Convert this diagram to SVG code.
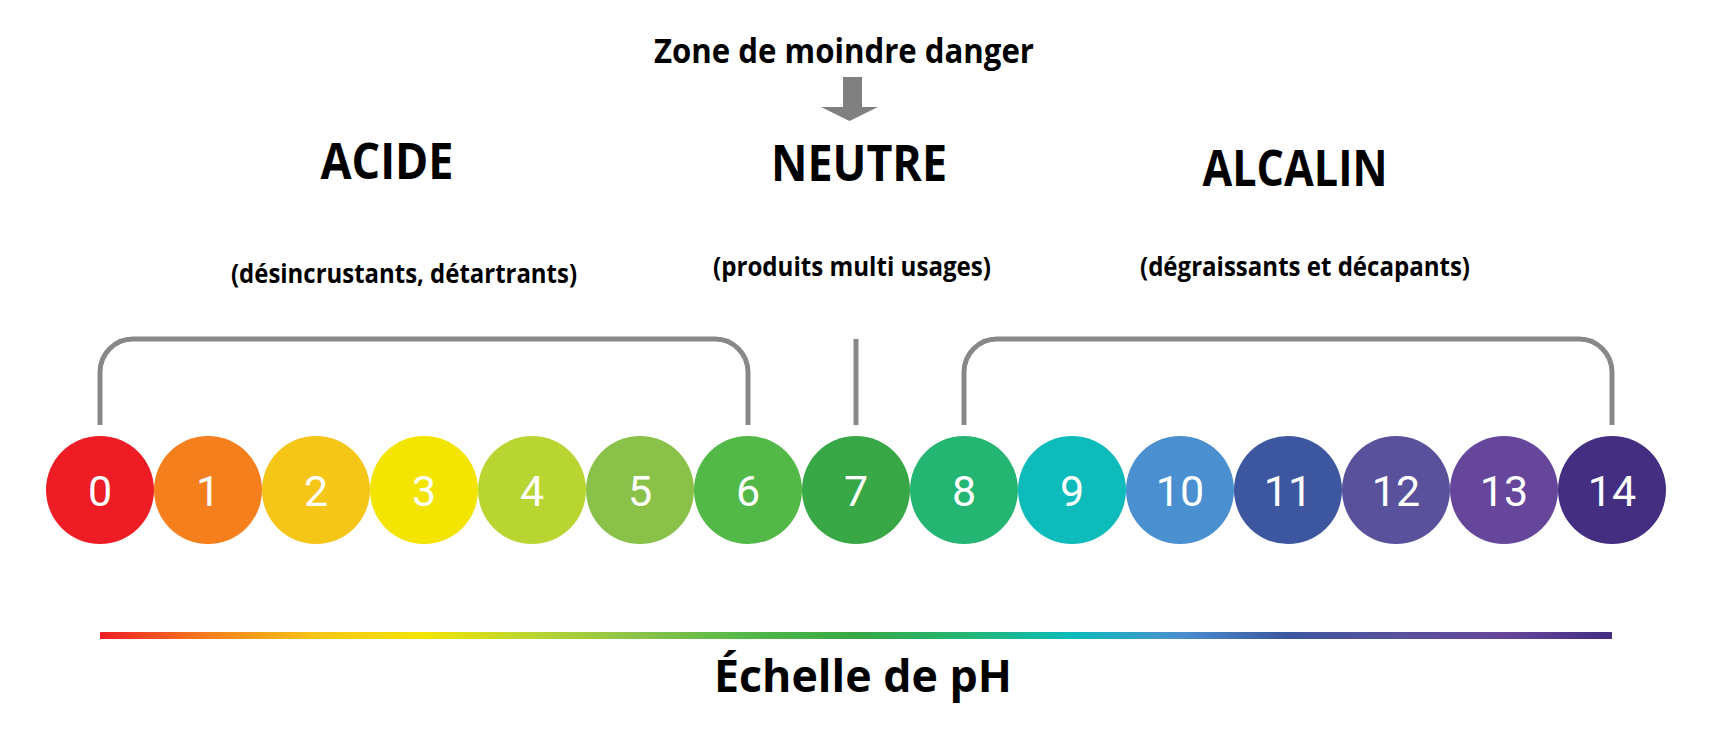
<svg xmlns="http://www.w3.org/2000/svg" width="1717" height="729" viewBox="0 0 1717 729">
<style>
.t{font-family:"Open Sans","Liberation Sans",sans-serif;font-weight:700;fill:#000;text-anchor:middle}
.d{font-family:Roboto,"Liberation Sans",sans-serif;font-weight:400;font-size:43px;fill:#fff;text-anchor:middle}
.br{fill:none;stroke:#888;stroke-width:5}
</style>
<defs>
<linearGradient id="g" x1="100" y1="0" x2="1612" y2="0" gradientUnits="userSpaceOnUse">
<stop offset="0" stop-color="#EE1D25"/>
<stop offset="0.0714" stop-color="#F57E1D"/>
<stop offset="0.1429" stop-color="#F5C518"/>
<stop offset="0.2143" stop-color="#F3E500"/>
<stop offset="0.2857" stop-color="#B9D532"/>
<stop offset="0.3571" stop-color="#8AC249"/>
<stop offset="0.4286" stop-color="#52B848"/>
<stop offset="0.5" stop-color="#37A845"/>
<stop offset="0.5714" stop-color="#24B573"/>
<stop offset="0.6429" stop-color="#0CBBBA"/>
<stop offset="0.7143" stop-color="#4A8FCF"/>
<stop offset="0.7857" stop-color="#3C56A0"/>
<stop offset="0.8571" stop-color="#59519C"/>
<stop offset="0.9286" stop-color="#65469B"/>
<stop offset="1" stop-color="#432E82"/>
</linearGradient>
</defs>
<rect width="1717" height="729" fill="#fff"/>
<g id="title">
<text class="t" x="844" y="63" font-size="34" textLength="380" lengthAdjust="spacingAndGlyphs">Zone de moindre danger</text>
<path d="M843 77 H862 V107 H878 L849.5 121 L821 107 H843 Z" fill="#808080"/>
</g>
<g id="labels">
<text class="t" x="387" y="179" font-size="50" textLength="133" lengthAdjust="spacingAndGlyphs">ACIDE</text>
<text class="t" x="859" y="181" font-size="50" textLength="176" lengthAdjust="spacingAndGlyphs">NEUTRE</text>
<text class="t" x="1295" y="186" font-size="50" textLength="185" lengthAdjust="spacingAndGlyphs">ALCALIN</text>
<text class="t" x="404" y="283" font-size="27" textLength="346" lengthAdjust="spacingAndGlyphs">(désincrustants, détartrants)</text>
<text class="t" x="852" y="276" font-size="27" textLength="278" lengthAdjust="spacingAndGlyphs">(produits multi usages)</text>
<text class="t" x="1305" y="276" font-size="27" textLength="330" lengthAdjust="spacingAndGlyphs">(dégraissants et décapants)</text>
</g>
<g id="connectors">
<path class="br" d="M100 425 V372 A33 33 0 0 1 133 339 H715 A33 33 0 0 1 748 372 V425"/>
<path class="br" d="M856 339 V425"/>
<path class="br" d="M964 425 V372 A33 33 0 0 1 997 339 H1579 A33 33 0 0 1 1612 372 V425"/>
</g>
<g id="ph0"><circle cx="100" cy="490" r="54" fill="#EE1D25"/><text class="d" x="100" y="506">0</text></g>
<g id="ph1"><circle cx="208" cy="490" r="54" fill="#F57E1D"/><text class="d" x="208" y="506">1</text></g>
<g id="ph2"><circle cx="316" cy="490" r="54" fill="#F5C518"/><text class="d" x="316" y="506">2</text></g>
<g id="ph3"><circle cx="424" cy="490" r="54" fill="#F3E500"/><text class="d" x="424" y="506">3</text></g>
<g id="ph4"><circle cx="532" cy="490" r="54" fill="#B9D532"/><text class="d" x="532" y="506">4</text></g>
<g id="ph5"><circle cx="640" cy="490" r="54" fill="#8AC249"/><text class="d" x="640" y="506">5</text></g>
<g id="ph6"><circle cx="748" cy="490" r="54" fill="#52B848"/><text class="d" x="748" y="506">6</text></g>
<g id="ph7"><circle cx="856" cy="490" r="54" fill="#37A845"/><text class="d" x="856" y="506">7</text></g>
<g id="ph8"><circle cx="964" cy="490" r="54" fill="#24B573"/><text class="d" x="964" y="506">8</text></g>
<g id="ph9"><circle cx="1072" cy="490" r="54" fill="#0CBBBA"/><text class="d" x="1072" y="506">9</text></g>
<g id="ph10"><circle cx="1180" cy="490" r="54" fill="#4A8FCF"/><text class="d" x="1180" y="506">10</text></g>
<g id="ph11"><circle cx="1288" cy="490" r="54" fill="#3C56A0"/><text class="d" x="1288" y="506">11</text></g>
<g id="ph12"><circle cx="1396" cy="490" r="54" fill="#59519C"/><text class="d" x="1396" y="506">12</text></g>
<g id="ph13"><circle cx="1504" cy="490" r="54" fill="#65469B"/><text class="d" x="1504" y="506">13</text></g>
<g id="ph14"><circle cx="1612" cy="490" r="54" fill="#432E82"/><text class="d" x="1612" y="506">14</text></g>
<g id="scale">
<rect x="100" y="632" width="1512" height="7" fill="url(#g)"/>
<text class="t" x="863" y="692" font-size="45" textLength="298" lengthAdjust="spacingAndGlyphs">Échelle de pH</text>
</g>
</svg>
